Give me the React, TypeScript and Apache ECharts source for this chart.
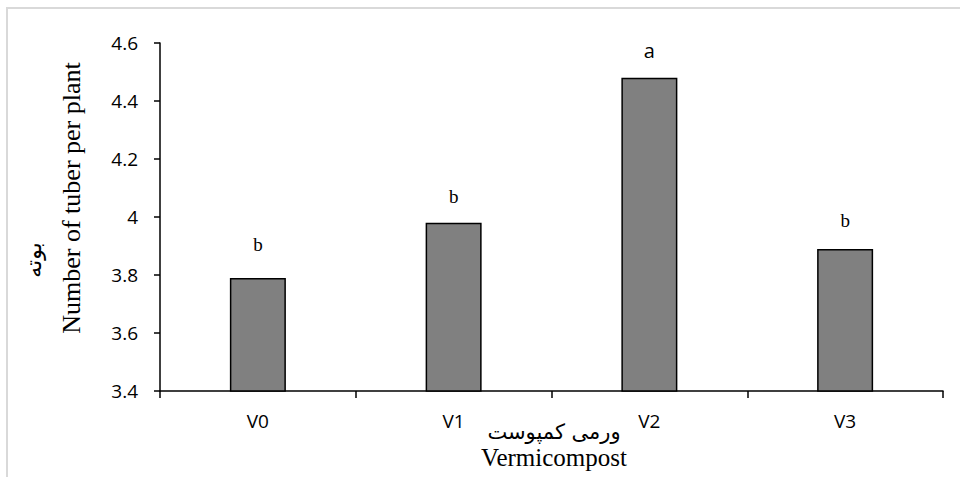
import React, { useEffect, useRef } from "react";
import * as echarts from "echarts";

const categories = ["V0", "V1", "V2", "V3"];
const values = [3.79, 3.98, 4.48, 3.89];
const letters = ["b", "b", "a", "b"];
const yTicks = { min: 3.4, max: 4.6, interval: 0.2 };

// style-only settings for the significance letters
const letterGap = [24, 17, 17, 19];
const letterFont = ["Liberation Serif", "Liberation Serif", "Open Sans", "Liberation Serif"];
const letterSize = [19, 19, 20, 19];

export default function App() {
  const ref = useRef<HTMLDivElement>(null);
  useEffect(() => {
    if (!ref.current) return;
    const chart = echarts.init(ref.current, undefined, { renderer: "svg" });
    chart.setOption({
      animation: false,
      backgroundColor: "#ffffff",
      grid: { left: 160, right: 17, top: 43, bottom: 86, containLabel: false },
      xAxis: {
        type: "category",
        data: categories,
        boundaryGap: true,
        axisLine: { lineStyle: { color: "#000", width: 1.5 } },
        axisTick: { show: true, length: 7, inside: false, lineStyle: { color: "#000", width: 1.5 } },
        axisLabel: { color: "#000", fontSize: 19, fontFamily: "Open Sans", margin: 20 },
        splitLine: { show: false },
      },
      yAxis: {
        type: "value",
        min: yTicks.min,
        max: yTicks.max,
        interval: yTicks.interval,
        axisLine: { show: true, lineStyle: { color: "#000", width: 1.5 } },
        axisTick: { show: true, length: 6, lineStyle: { color: "#000", width: 1.5 } },
        axisLabel: {
          color: "#000",
          fontSize: 19,
          fontFamily: "Open Sans",
          margin: 22,
          formatter: (v: number) => String(Math.round(v * 10) / 10),
        },
        splitLine: { show: false },
      },
      series: [
        {
          type: "bar",
          barWidth: 56,
          data: values.map((v, i) => ({
            value: v,
            label: {
              show: true,
              position: "top",
              distance: letterGap[i],
              formatter: letters[i],
              fontFamily: letterFont[i],
              fontSize: letterSize[i],
              color: "#000",
            },
          })),
          itemStyle: { color: "#808080", borderColor: "#000", borderWidth: 1.5 },
        },
      ],
      graphic: [
        {
          type: "polyline",
          shape: { points: [[7, 477], [7, 8], [960, 8]] },
          style: { stroke: "#d9d9d9", lineWidth: 2, fill: "none" },
          silent: true,
        },
        {
          type: "text",
          x: 71,
          y: 198,
          rotation: Math.PI / 2,
          style: {
            text: "Number of tuber per plant",
            fontFamily: "Liberation Serif",
            fontSize: 26,
            fill: "#000",
            textAlign: "center",
            textVerticalAlign: "middle",
          },
        },
        {
          type: "text",
          x: 33,
          y: 260,
          rotation: Math.PI / 2,
          style: {
            text: "بوته",
            fontFamily: "DejaVu Sans",
            fontSize: 22,
            fill: "#000",
            textAlign: "center",
            textVerticalAlign: "middle",
          },
        },
        {
          type: "text",
          x: 554,
          y: 432,
          style: {
            text: "ورمی کمپوست",
            fontFamily: "DejaVu Sans",
            fontSize: 21,
            fill: "#000",
            textAlign: "center",
            textVerticalAlign: "middle",
          },
        },
        {
          type: "text",
          x: 554,
          y: 457,
          style: {
            text: "Vermicompost",
            fontFamily: "Liberation Serif",
            fontSize: 25,
            fill: "#000",
            textAlign: "center",
            textVerticalAlign: "middle",
          },
        },
      ],
    });
    return () => chart.dispose();
  }, []);
  return (
    <div
      ref={ref}
      style={{ position: "absolute", left: 0, top: 0, width: 960, height: 477 }}
    />
  );
}
